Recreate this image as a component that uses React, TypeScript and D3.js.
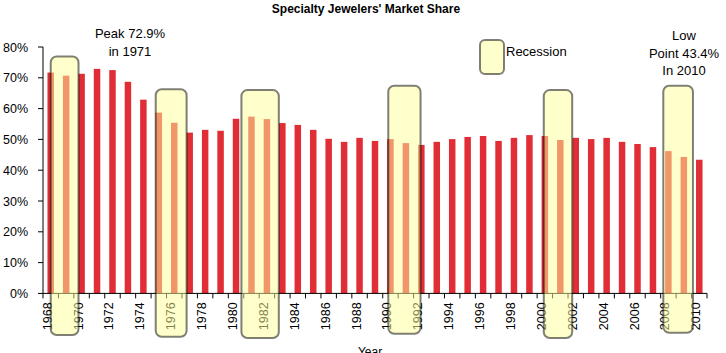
import React from "react"
import * as d3 from "d3"

// market share by year (%)
const years = [
  1968, 1969, 1970, 1971, 1972, 1973, 1974, 1975, 1976, 1977, 1978, 1979, 1980, 1981, 1982,
  1983, 1984, 1985, 1986, 1987, 1988, 1989, 1990, 1991, 1992, 1993, 1994, 1995, 1996, 1997,
  1998, 1999, 2000, 2001, 2002, 2003, 2004, 2005, 2006, 2007, 2008, 2009, 2010,
]
const share = [
  71.7, 70.7, 71.3, 72.9, 72.5, 68.7, 62.9, 58.7, 55.4, 52.2, 53.1, 52.8, 56.7, 57.4, 56.6,
  55.3, 54.7, 53.1, 50.2, 49.2, 50.5, 49.5, 50.1, 48.8, 48.2, 49.2, 50.1, 50.8, 51.1, 49.5,
  50.5, 51.4, 51.1, 49.8, 50.5, 50.1, 50.5, 49.2, 48.5, 47.5, 46.2, 44.3, 43.4,
]
const yTicks = [0, 10, 20, 30, 40, 50, 60, 70, 80]

// recession shading, in year units / percent units (hand drawn in the original)
const recFrom = [1968.0, 1974.8, 1980.35, 1989.86, 1999.93, 2007.67]
const recTo = [1969.8, 1976.8, 1982.77, 1991.95, 2001.77, 2009.59]
const recTop = [76.9, 66.3, 66.0, 67.4, 66.0, 67.4]
const recBottom = [-13.5, -14.1, -14.5, -13.1, -14.5, -12.8]

const W = 726
const H = 353
const left = 43
const right = 707
const top = 47
const bottom = 293.4

const RED = "#e02d36"
const FONT = "'Liberation Sans', Arial, sans-serif"

const App: React.FC = () => {
  const x = d3.scaleBand<number>().domain(years).range([left, right]).padding(0)
  const bw = x.bandwidth()
  const barW = bw * 0.42
  const y = d3.scaleLinear().domain([0, 80]).range([bottom, top])
  const yearPos = d3.scaleLinear()
    .domain([years[0], years[years.length - 1]])
    .range([x(years[0])! + bw / 2, x(years[years.length - 1])! + bw / 2])

  const boxStyle = {
    fill: "#ffff99",
    fillOpacity: 0.5,
    stroke: "#000",
    strokeOpacity: 0.5,
    strokeWidth: 2,
  }

  return (
    <svg width={W} height={H} style={{ position: "absolute", left: 0, top: 0 }} fontFamily={FONT}>
      <rect width={W} height={H} fill="#fff" />
      <text x={366} y={13} textAnchor="middle" fontSize={12} fontWeight="bold">
        Specialty Jewelers' Market Share
      </text>

      {/* bars */}
      {years.map((yr, i) => (
        <rect key={yr}
          x={x(yr)! + (bw - barW) / 2}
          y={y(share[i])}
          width={barW}
          height={y(0) - y(share[i])}
          fill={RED} />
      ))}

      {/* y axis */}
      <line x1={left} x2={left} y1={y(80)} y2={y(0)} stroke="#000" />
      {yTicks.map(t => (
        <g key={t}>
          <line x1={left - 5} x2={left} y1={y(t)} y2={y(t)} stroke="#000" />
          <text x={28} y={y(t)} dy="0.36em" textAnchor="end" fontSize={12.5}>{t}%</text>
        </g>
      ))}

      {/* x axis */}
      <line x1={left} x2={right} y1={bottom} y2={bottom} stroke="#000" />
      {years.map(yr => (
        <line key={"t" + yr} x1={x(yr)!} x2={x(yr)!} y1={bottom} y2={bottom + 5} stroke="#000" />
      ))}
      <line x1={right} x2={right} y1={bottom} y2={bottom + 5} stroke="#000" />
      {years.filter(yr => yr % 2 === 0).map(yr => {
        const cx = x(yr)! + bw / 2 + 1
        return (
          <text key={"l" + yr} transform={`translate(${cx},${bottom + 9}) rotate(-90)`}
            textAnchor="end" fontSize={12.5}>{yr}</text>
        )
      })}
      <text x={370} y={356} textAnchor="middle" fontSize={12}>Year</text>

      {/* annotations */}
      <text x={130} y={38} textAnchor="middle" fontSize={13}>Peak 72.9%</text>
      <text x={130} y={56} textAnchor="middle" fontSize={13}>in 1971</text>
      <text x={684} y={40} textAnchor="middle" fontSize={13}>Low</text>
      <text x={684} y={58} textAnchor="middle" fontSize={13}>Point 43.4%</text>
      <text x={684} y={75} textAnchor="middle" fontSize={13}>In 2010</text>

      {/* recession boxes */}
      {recFrom.map((f, i) => (
        <rect key={"r" + i}
          x={yearPos(f)}
          y={y(recTop[i])}
          width={yearPos(recTo[i]) - yearPos(f)}
          height={y(recBottom[i]) - y(recTop[i])}
          rx={6} ry={6}
          {...boxStyle} />
      ))}

      {/* legend */}
      <rect x={480} y={40} width={24} height={34} rx={5} ry={5} {...boxStyle} />
      <text x={506} y={56} fontSize={13}>Recession</text>
    </svg>
  )
}

export default App
